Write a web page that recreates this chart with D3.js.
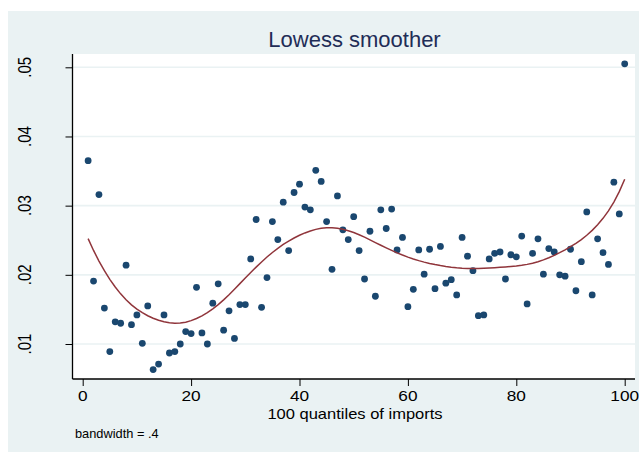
<!DOCTYPE html>
<html>
<head>
<meta charset="utf-8">
<script src="https://cdn.jsdelivr.net/npm/d3@7"></script>
<style>
  html, body { margin: 0; padding: 0; background: #ffffff; }
  svg { display: block; font-family: "Liberation Sans", Arial, Helvetica, sans-serif; }
</style>
</head>
<body>
<svg id="chart" width="639" height="452"></svg>
<script>
// Quantile index (1..100) of imports
const quantiles = [
  1, 2, 3, 4, 5, 6, 7, 8, 9, 10,
  11, 12, 13, 14, 15, 16, 17, 18, 19, 20,
  21, 22, 23, 24, 25, 26, 27, 28, 29, 30,
  31, 32, 33, 34, 35, 36, 37, 38, 39, 40,
  41, 42, 43, 44, 45, 46, 47, 48, 49, 50,
  51, 52, 53, 54, 55, 56, 57, 58, 59, 60,
  61, 62, 63, 64, 65, 66, 67, 68, 69, 70,
  71, 72, 73, 74, 75, 76, 77, 78, 79, 80,
  81, 82, 83, 84, 85, 86, 87, 88, 89, 90,
  91, 92, 93, 94, 95, 96, 97, 98, 99, 100
];

// Observed share within each quantile
const values = [
  .0365, .0191, .0316, .0152, .0089, .0132, .0130, .0214, .0128, .0142,
  .0101, .0155, .0063, .0071, .0142, .0087, .0089, .0100, .0118, .0115,
  .0182, .0116, .0100, .0159, .0187, .0120, .0148, .0108, .0157, .0157,
  .0223, .0280, .0153, .0196, .0277, .0251, .0305, .0235, .0319, .0331,
  .0298, .0294, .0351, .0335, .0277, .0208, .0314, .0265, .0251, .0284,
  .0235, .0194, .0263, .0169, .0294, .0267, .0295, .0236, .0254, .0154,
  .0179, .0236, .0201, .0237, .0180, .0241, .0188, .0193, .0171, .0254,
  .0227, .0206, .0141, .0142, .0223, .0231, .0233, .0194, .0229, .0226,
  .0256, .0158, .0231, .0252, .0201, .0238, .0233, .0200, .0198, .0237,
  .0177, .0219, .0291, .0171, .0252, .0232, .0215, .0334, .0288, .0505
];

const xTicks = [0, 20, 40, 60, 80, 100];
const yTicks = [0.01, 0.02, 0.03, 0.04, 0.05];
const yTickLabels = [".01", ".02", ".03", ".04", ".05"];
const bandwidth = 0.4;

const titleText = "Lowess smoother";
const xTitleText = "100 quantiles of imports";
const noteText = "bandwidth = .4";

// Running-line lowess with tricube weights (Stata-style neighbourhoods)
function lowess(xs, ys, bw) {
  const n = xs.length;
  const k = Math.floor((n * bw - 0.5) / 2);
  const out = [];
  for (let i = 0; i < n; i++) {
    const lo = Math.max(0, i - k), hi = Math.min(n - 1, i + k);
    const delta = 1.0001 * Math.max(xs[hi] - xs[i], xs[i] - xs[lo]);
    let sw = 0, sx = 0, sy = 0;
    const w = [];
    for (let j = lo; j <= hi; j++) {
      const u = Math.abs(xs[j] - xs[i]) / delta;
      const wj = u < 1 ? Math.pow(1 - u * u * u, 3) : 0;
      w.push(wj); sw += wj; sx += wj * xs[j]; sy += wj * ys[j];
    }
    const mx = sx / sw, my = sy / sw;
    let sxx = 0, sxy = 0;
    for (let j = lo; j <= hi; j++) {
      const wj = w[j - lo];
      sxx += wj * (xs[j] - mx) * (xs[j] - mx);
      sxy += wj * (xs[j] - mx) * (ys[j] - my);
    }
    const b = sxx > 0 ? sxy / sxx : 0;
    out.push([xs[i], my + b * (xs[i] - mx)]);
  }
  return out;
}

const svg = d3.select("#chart");

// Outer graph region
svg.append("rect")
  .attr("x", 8).attr("y", 11)
  .attr("width", 631).attr("height", 441)
  .attr("fill", "#eaf2f3");

// Plot region
const plot = { left: 72.5, top: 54, right: 635, bottom: 379 };
svg.append("rect")
  .attr("x", plot.left).attr("y", plot.top)
  .attr("width", plot.right - plot.left).attr("height", plot.bottom - plot.top)
  .attr("fill", "#ffffff");

const x = d3.scaleLinear().domain([0, 100]).range([82.7, 624.7]);
const y = d3.scaleLinear().domain([0.01, 0.05]).range([344, 67.3]);

// Horizontal grid lines
svg.append("g")
  .selectAll("line")
  .data(yTicks)
  .join("line")
  .attr("x1", plot.left).attr("x2", plot.right)
  .attr("y1", d => y(d)).attr("y2", d => y(d))
  .attr("stroke", "#eaf2f3").attr("stroke-width", 1.6);

// Y axis
const yAxis = d3.axisLeft(y).tickValues(yTicks).tickSize(7).tickFormat("");
const gy = svg.append("g").attr("transform", `translate(${plot.left},0)`).call(yAxis);
gy.select(".domain").remove();
gy.selectAll(".tick line").attr("stroke", "#000").attr("stroke-width", 1);
svg.append("line")
  .attr("x1", plot.left).attr("x2", plot.left)
  .attr("y1", plot.top).attr("y2", plot.bottom)
  .attr("stroke", "#000").attr("stroke-width", 1.3);

svg.append("g")
  .selectAll("text")
  .data(yTicks)
  .join("text")
  .attr("transform", d => `translate(31,${y(d)}) scale(1.2,1) rotate(-90)`)
  .attr("text-anchor", "middle")
  .attr("font-size", 15)
  .attr("fill", "#000")
  .text((d, i) => yTickLabels[i]);

// X axis
const xAxis = d3.axisBottom(x).tickValues(xTicks).tickSize(7).tickFormat("");
const gx = svg.append("g").attr("transform", `translate(0,${plot.bottom})`).call(xAxis);
gx.select(".domain").remove();
gx.selectAll(".tick line").attr("stroke", "#000").attr("stroke-width", 1);
svg.append("line")
  .attr("x1", plot.left).attr("x2", plot.right)
  .attr("y1", plot.bottom).attr("y2", plot.bottom)
  .attr("stroke", "#000").attr("stroke-width", 1.3);

svg.append("g")
  .selectAll("text")
  .data(xTicks)
  .join("text")
  .attr("transform", d => `translate(${x(d)},401) scale(1.15,1)`)
  .attr("text-anchor", "middle")
  .attr("font-size", 15)
  .attr("fill", "#000")
  .text(d => d);

// Axis title
svg.append("text")
  .attr("transform", `translate(355,418.5) scale(1.18,1)`)
  .attr("text-anchor", "middle")
  .attr("font-size", 14)
  .attr("fill", "#000")
  .text(xTitleText);

// Note
svg.append("text")
  .attr("x", 75).attr("y", 437.5)
  .attr("font-size", 12.8)
  .attr("fill", "#000")
  .text(noteText);

// Title
svg.append("text")
  .attr("x", 354.5).attr("y", 46.7)
  .attr("text-anchor", "middle")
  .attr("font-size", 22)
  .attr("fill", "#1f2d57")
  .text(titleText);

// Scatter points
const points = quantiles.map((q, i) => [q, values[i]]);
svg.append("g")
  .selectAll("circle")
  .data(points)
  .join("circle")
  .attr("cx", d => x(d[0]))
  .attr("cy", d => y(d[1]))
  .attr("r", 3.4)
  .attr("fill", "#1a476f");

// Lowess curve
const smooth = lowess(quantiles, values, bandwidth);
svg.append("path")
  .datum(smooth)
  .attr("fill", "none")
  .attr("stroke", "#90353b")
  .attr("stroke-width", 1.5)
  .attr("d", d3.line().x(d => x(d[0])).y(d => y(d[1])));
</script>
</body>
</html>
